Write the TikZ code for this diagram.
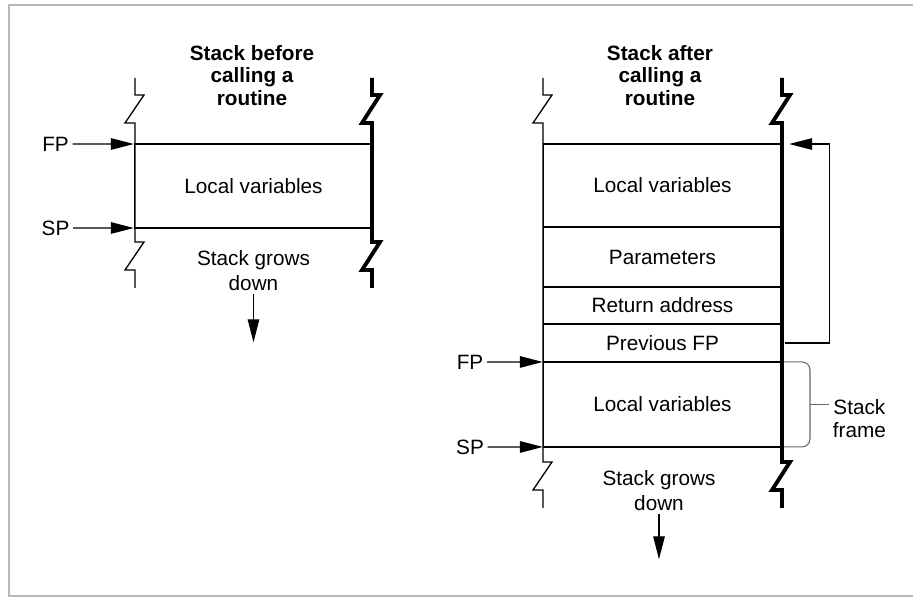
\documentclass[tikz,border=0pt]{standalone}
\usepackage{fontspec}
\setmainfont{Liberation Sans}
\definecolor{FrameGray}{RGB}{185, 185, 185}
\definecolor{BraceGray}{RGB}{105, 105, 105}
\usetikzlibrary{arrows.meta, positioning}

\begin{document}
\begin{tikzpicture}[
    x=0.02cm, y=-0.02cm,
    font=\fontsize{11.8}{13}\selectfont,
    cell/.style={draw, line width=0.75pt, minimum width=4.76cm, inner sep=1pt, outer sep=0pt, align=center},
    title/.style={font=\fontsize{11.8}{12.8}\selectfont\bfseries, align=center},
    note/.style={align=center, inner sep=2pt},
    lbl/.style={inner sep=2pt},
    arrow/.style={-{Triangle[length=4.6mm, width=2.3mm]}, line width=0.75pt, shorten >=0.4pt},
    wall/.style={line width=0.75pt},
    bigwall/.style={line width=2.2pt},
    bracket/.style={draw=BraceGray, line width=0.6pt},
    frame/.style={draw=FrameGray, line width=0.9pt}
  ]
    \useasboundingbox (0,0) rectangle (913,597);
    \draw[frame] (913,5) -- (9,5) -- (9,596) -- (913,596);

    % stack before the call
    \node[title] (t0) at (252,75.5) {Stack before\\calling a\\routine};
    \node[cell, minimum height=1.68cm] (lv0) at (253.5,186) {Local variables};
    \node[lbl] (fp0) at (55.5,144) {FP};
    \node[lbl] (sp0) at (55.5,228) {SP};
    \draw[arrow] (fp0) -- (lv0.north west);
    \draw[arrow] (sp0) -- (lv0.south west);
    \node[note, font=\fontsize{11.8}{14.2}\selectfont] (gr0) at (253.5,270.5) {Stack grows\\down};
    \coordinate (gd0) at (253.5,343);
    \draw[arrow] (gr0) -- (gd0);

    % stack after the call
    \node[title] (t1) at (660,75.5) {Stack after\\calling a\\routine};
    \node[cell, minimum height=1.66cm] (lv1) at (662.5,185.5) {Local variables};
    \node[cell, minimum height=1.2cm, below=0pt of lv1] (par) {Parameters};
    \node[cell, minimum height=0.74cm, below=0pt of par] (ret) {Return address};
    \node[cell, minimum height=0.76cm, below=0pt of ret] (prev) {Previous FP};
    \node[cell, minimum height=1.7cm, below=0pt of prev] (lv2) {Local variables};
    \node[lbl] (fp1) at (470,362) {FP};
    \node[lbl] (sp1) at (470,447) {SP};
    \draw[arrow] (fp1) -- (lv2.north west);
    \draw[arrow] (sp1) -- (lv2.south west);
    \node[note, font=\fontsize{11.8}{14.2}\selectfont] (gr1) at (659,490.5) {Stack grows\\down};
    \coordinate (gd1) at (659,560);
    \draw[arrow] (gr1) -- (gd1);

    % saved frame pointer
    \draw[arrow] ([xshift=0.08cm]prev.east) -- ++(0.88cm,0) |- ([xshift=0.14cm]lv1.north east);

    % stack frame bracket
    \coordinate (brtip) at (810,404.5);
    \draw[bracket, rounded corners=0.16cm] (lv2.north east) -| (brtip) |- (lv2.south east);
    \node[note, anchor=west] (frm) at (829,418.5) {Stack\\frame};
    \draw[bracket] (brtip) -- (brtip -| frm.west);

    % walls with breaks
    \draw[wall] (135,78) -- (135,95) -- (144,95) -- (125,123) -- (135,123) -- (135,242) -- (144,242) -- (125,270) -- (135,270) -- (135,288);
    \draw[bigwall] (372,78) -- (372,95) -- (380,95) -- (362,123) -- (372,123) -- (372,242) -- (380,242) -- (362,270) -- (372,270) -- (372,288);
    \draw[wall] (543,78) -- (543,95) -- (552,95) -- (533,123) -- (543,123) -- (543,462) -- (552,462) -- (533,490) -- (543,490) -- (543,508);
    \draw[bigwall] (782,78) -- (782,95) -- (790,95) -- (772,123) -- (782,123) -- (782,462) -- (790,462) -- (772,490) -- (782,490) -- (782,508);
\end{tikzpicture}
\end{document}
